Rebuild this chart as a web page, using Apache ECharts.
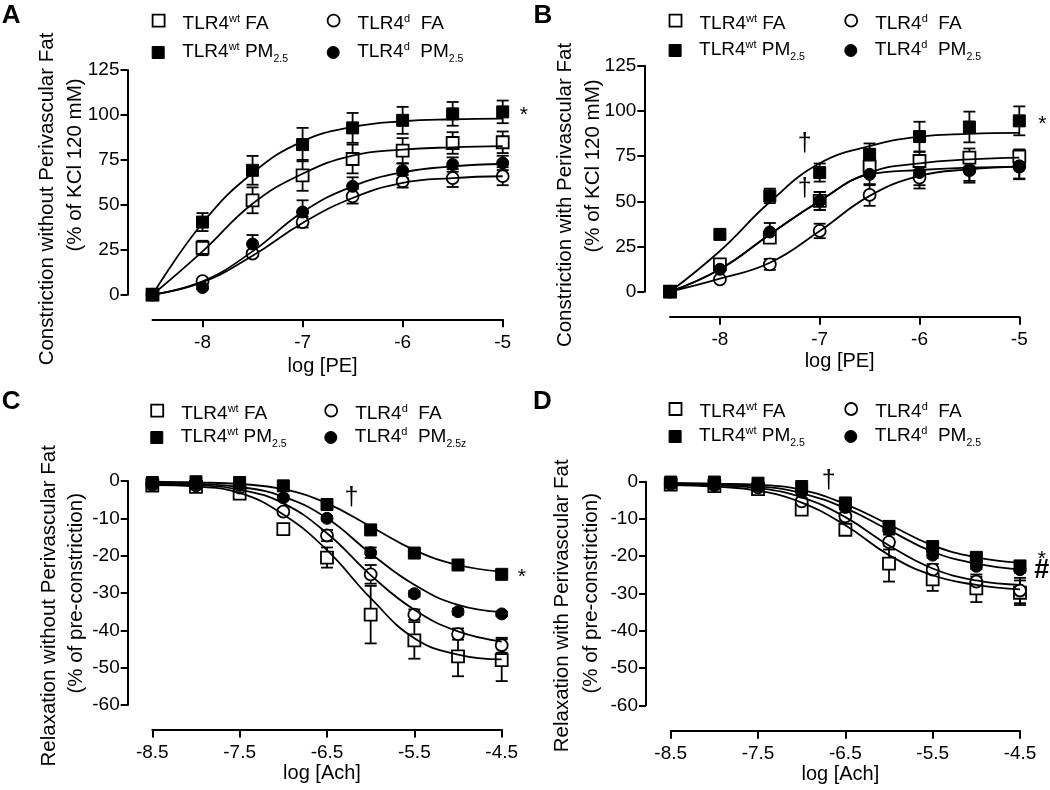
<!DOCTYPE html>
<html><head><meta charset="utf-8">
<script src="https://cdn.jsdelivr.net/npm/echarts@6/dist/echarts.min.js"></script>
<style>html,body{margin:0;padding:0;background:#fff}#c{width:1050px;height:790px}</style>
</head><body><div id="c"></div>
<script>
// ---------- x positions & ticks ----------
const xPE  = [-8.5, -8, -7.5, -7, -6.5, -6, -5.5, -5];
const xAch = [-8.5, -8, -7.5, -7, -6.5, -6, -5.5, -5, -4.5];
const peTicks  = [-8, -7, -6, -5];
const achTicks = [-8.5, -7.5, -6.5, -5.5, -4.5];

// ---------- Panel A : constriction without PVAT ----------
const aWtFA     = [0, 26, 52.5, 66.4, 75.5, 80.1, 84.4, 84.8];
const aWtFAErr  = [0, 4, 7.2, 8.6, 8, 7, 6, 6];
const aWtFAFit  = [0, 24.1, 50.6, 67.3, 77.4, 80.7, 82, 82.6];
const aWtPM     = [0, 40.4, 69.2, 83.5, 92.8, 97, 100.6, 101.7];
const aWtPMErr  = [0, 5, 8, 9.3, 8.3, 7.5, 6.6, 6.3];
const aWtPMFit  = [0, 39.9, 67.7, 85.3, 93.3, 96.5, 97.6, 98];
const aDFA      = [0, 7.5, 22.8, 40.4, 54.7, 63.1, 64.9, 65.9];
const aDFAErr   = [0, 1, 1.5, 3, 4, 3.5, 5, 5];
const aDFAFit   = [0, 7, 21.7, 39.9, 53.8, 62.2, 64.9, 65.9];
const aDPM      = [0, 4, 28.2, 46, 60.3, 69, 72.4, 73.3];
const aDPMErr   = [0, 1, 5, 6.5, 5, 4, 4, 4];
const aDPMFit   = [0, 7.4, 24.1, 46, 60.3, 68.1, 71.4, 72.7];
const aNotes    = [[-4.79, 99.7, '*']];

// ---------- Panel B : constriction with PVAT ----------
const bWtFA     = [0, 15.1, 29.9, 50.2, 69.2, 72.3, 74.2, 74.7];
const bWtFAErr  = [0, 0.5, 3, 5, 5, 5, 5, 4];
const bWtFAFit  = [0, 12.4, 31.7, 50.2, 65.9, 71, 73.2, 74.2];
const bWtPM     = [0, 31.7, 53, 65.9, 76, 85.8, 91.1, 94.5];
const bWtPMErr  = [0, 0.5, 4, 5, 6, 8.2, 8.5, 8];
const bWtPMFit  = [0, 22.5, 49.6, 71, 80.5, 85.8, 87.3, 87.8];
const bDFA      = [0, 6.8, 15.1, 33.6, 53.5, 63.1, 67.3, 69.2];
const bDFAErr   = [0, 0.5, 3, 4, 6, 6, 6, 7];
const bDFAFit   = [0, 7.2, 16, 33.6, 53, 64, 67.7, 69.2];
const bDPM      = [0, 12.4, 33, 50.2, 64.9, 65.9, 67.3, 69.6];
const bDPMErr   = [0, 0.5, 5, 5, 6, 7, 7, 7];
const bDPMFit   = [0, 12.4, 31.7, 50.2, 64.9, 67.3, 68.6, 69.2];
const bNotes    = [[-4.77, 92.9, '*'], [-7.15, 81.5, '\u2020'], [-7.15, 57, '\u2020']];

// ---------- Panel C : relaxation without PVAT ----------
const cWtFA     = [-1.2, -1.6, -3.4, -12.9, -20.5, -35.8, -42.7, -47, -48];
const cWtFAErr  = [0.5, 0.5, 0.8, 1.2, 2.7, 7.7, 4.9, 5.3, 5.6];
const cWtFAFit  = [-1.1, -1.5, -3.2, -9, -18.5, -31.4, -42.1, -46.5, -47.8];
const cWtPM     = [-0.4, -0.2, -0.4, -1.3, -6.3, -13.1, -19.3, -22.5, -25];
const cWtPMErr  = [0.3, 0.3, 0.3, 0.4, 0.5, 0.6, 0.6, 0.6, 0.6];
const cWtPMFit  = [-0.2, -0.4, -0.8, -2.2, -6, -12.2, -18.5, -22.5, -24.3];
const cDFA      = [-1, -1.2, -1.8, -8.2, -14.6, -25, -35.8, -41, -44];
const cDFAErr   = [0.4, 0.4, 0.5, 0.8, 1.5, 2.5, 1.4, 1.5, 2];
const cDFAFit   = [-0.8, -1.1, -2.3, -6, -14, -25.2, -34.5, -40.3, -43];
const cDPM      = [-0.8, -0.9, -1.2, -4.5, -10, -19.2, -30.2, -35, -35.6];
const cDPMErr   = [0.3, 0.3, 0.4, 0.6, 0.6, 1.4, 0.8, 0.8, 0.6];
const cDPMFit   = [-0.6, -0.8, -1.6, -4.2, -10, -19.4, -27.8, -33.2, -35.1];
const cNotes    = [[-4.27, -25.8, '*'], [-6.22, -4.6, '\u2020']];

// ---------- Panel D : relaxation with PVAT ----------
const dWtFA     = [-0.8, -1.2, -2, -7.5, -12.9, -22, -26.2, -28.6, -29.8];
const dWtFAErr  = [0.4, 0.4, 0.5, 0.8, 1.2, 4.8, 3.1, 3.7, 3.3];
const dWtFAFit  = [-0.9, -1.3, -2.4, -5.6, -11.7, -19.7, -25.1, -27.7, -28.9];
const dWtPM     = [-0.1, -0.1, -0.4, -1.3, -5.7, -12, -17.4, -20.3, -22.6];
const dWtPMErr  = [0.3, 0.3, 0.3, 0.4, 0.5, 0.8, 0.8, 0.8, 0.8];
const dWtPMFit  = [-0.3, -0.5, -0.8, -2.2, -6, -11.5, -17.1, -20.3, -21.8];
const dDFA      = [-0.6, -0.9, -1.5, -5.3, -9.3, -16.2, -23.6, -26.8, -29.2];
const dDFAErr   = [0.3, 0.3, 0.4, 0.8, 1, 2, 1.5, 1.3, 3.4];
const dDFAFit   = [-0.7, -1, -1.7, -4.2, -9.5, -17.1, -23.3, -26.5, -27.7];
const dDPM      = [-0.5, -0.8, -1.2, -2.8, -6.9, -12.9, -19.7, -22.7, -23.6];
const dDPMErr   = [0.3, 0.3, 0.3, 0.4, 0.5, 0.8, 0.8, 0.8, 0.8];
const dDPMFit   = [-0.5, -0.7, -1.2, -3.1, -7.1, -13, -18.8, -22, -23.6];
const dNotes    = [[-4.25, -20.7, '*'], [-4.25, -23.9, '#'], [-6.69, 0.2, '\u2020']];

// ---------- text ----------
const yTitlesA = ['Constriction without Perivascular Fat', '(% of KCl 120 mM)'];
const yTitlesB = ['Constriction with Perivascular Fat', '(% of KCl 120 mM)'];
const yTitlesC = ['Relaxation without Perivascular Fat', '(% of pre-constriction)'];
const yTitlesD = ['Relaxation with Perivascular Fat', '(% of pre-constriction)'];

const FONT = "'Liberation Sans', Arial, Helvetica, sans-serif";

const groups = [
  {key: 'wtFA', symbol: 'rect',   filled: false},
  {key: 'dFA',  symbol: 'circle', filled: false},
  {key: 'wtPM', symbol: 'rect',   filled: true},
  {key: 'dPM',  symbol: 'circle', filled: true}
];

const panels = [
  {id: 'A', xs: xPE, d: {wtFA: [aWtFA, aWtFAErr, aWtFAFit], wtPM: [aWtPM, aWtPMErr, aWtPMFit], dFA: [aDFA, aDFAErr, aDFAFit], dPM: [aDPM, aDPMErr, aDPMFit]},
   notes: aNotes, titles: yTitlesA, xName: 'log [PE]', xMin: -8.5, xMax: -5, xTicks: peTicks,
   yMin: 0, yMax: 125, yInt: 25,
   grid: {left: 152.5, top: 70, width: 350.2, height: 224.7}, xOff: 24.6, yOff: 25, nameGap: 37,
   t1: [47.5, 199], t2: [75, 165], letter: [1.7, 16], leg: {c1: 151.7, c2: 326.7, r1: 19.2, r2: 51}, sub: '2.5'},
  {id: 'B', xs: xPE, d: {wtFA: [bWtFA, bWtFAErr, bWtFAFit], wtPM: [bWtPM, bWtPMErr, bWtPMFit], dFA: [bDFA, bDFAErr, bDFAFit], dPM: [bDPM, bDPMErr, bDPMFit]},
   notes: bNotes, titles: yTitlesB, xName: 'log [PE]', xMin: -8.5, xMax: -5, xTicks: peTicks,
   yMin: 0, yMax: 125, yInt: 25,
   grid: {left: 670, top: 65.7, width: 349.3, height: 226}, xOff: 25, yOff: 25.7, nameGap: 35,
   t1: [565.5, 195], t2: [593.5, 166], letter: [533.5, 16.3], leg: {c1: 668.6, c2: 844.3, r1: 19.2, r2: 49}, sub: '2.5'},
  {id: 'C', xs: xAch, d: {wtFA: [cWtFA, cWtFAErr, cWtFAFit], wtPM: [cWtPM, cWtPMErr, cWtPMFit], dFA: [cDFA, cDFAErr, cDFAFit], dPM: [cDPM, cDPMErr, cDPMFit]},
   notes: cNotes, titles: yTitlesC, xName: 'log [Ach]', xMin: -8.5, xMax: -4.5, xTicks: achTicks,
   yMin: -60, yMax: 0, yInt: 10,
   grid: {left: 152.3, top: 481, width: 349.4, height: 224}, xOff: 24.5, yOff: 24.6, nameGap: 32.5,
   t1: [49, 605.8], t2: [76, 593.3], letter: [1.7, 401.7], leg: {c1: 150.3, c2: 324.3, r1: 409.2, r2: 436}, sub: '2.5z'},
  {id: 'D', xs: xAch, d: {wtFA: [dWtFA, dWtFAErr, dWtFAFit], wtPM: [dWtPM, dWtPMErr, dWtPMFit], dFA: [dDFA, dDFAErr, dDFAFit], dPM: [dDPM, dDPMErr, dDPMFit]},
   notes: dNotes, titles: yTitlesD, xName: 'log [Ach]', xMin: -8.5, xMax: -4.5, xTicks: achTicks,
   yMin: -60, yMax: 0, yInt: 10,
   grid: {left: 670.7, top: 481.7, width: 349.3, height: 223.6}, xOff: 25.4, yOff: 24.7, nameGap: 32.6,
   t1: [562, 605.8], t2: [591, 593.3], letter: [533, 401.7], leg: {c1: 668.6, c2: 844.3, r1: 407.5, r2: 435}, sub: '2.5'}
];

function pad(o) { return o >= 0 ? [2 * o, 0, 0, 0] : [0, 0, -2 * o, 0]; }
function rich(shift) {
  const base = {fontFamily: FONT, color: '#000', lineHeight: 22};
  const p = pad(shift);
  return {
    t0:  Object.assign({}, base, {fontSize: 19, padding: [p[0], 0, p[2], 13]}),
    t:   Object.assign({}, base, {fontSize: 19, padding: pad(shift)}),
    sup: Object.assign({}, base, {fontSize: 11, padding: pad(shift - 5)}),
    sub: Object.assign({}, base, {fontSize: 10.5, padding: pad(shift + 8)})
  };
}
function legendText(key, sub) {
  if (key === 'wtFA') return '{t0|TLR4}{sup|wt}{t| FA}';
  if (key === 'wtPM') return '{t0|TLR4}{sup|wt}{t| PM}{sub|2.5}';
  if (key === 'dFA')  return '{t0|TLR4}{sup|d}{t|  FA}';
  return '{t0|TLR4}{sup|d}{t|  PM}{sub|' + sub + '}';
}
function markerStyle(g) {
  return g.filled ? {color: '#000', borderColor: '#000', borderWidth: 1, opacity: 1}
                  : {color: '#fff', borderColor: '#000', borderWidth: 1.8, opacity: 1};
}

const option = {
  backgroundColor: '#fff',
  animation: false,
  grid: [], xAxis: [], yAxis: [], series: [], legend: [], graphic: []
};

panels.forEach((p, i) => {
  option.grid.push(Object.assign({containLabel: false}, p.grid));
  option.xAxis.push({
    type: 'value', gridIndex: i, min: p.xMin, max: p.xMax, offset: p.xOff,
    name: p.xName, nameLocation: 'middle', nameGap: p.nameGap,
    nameTextStyle: {fontSize: 20, fontFamily: FONT, color: '#000', padding: [0, 10, 0, 0]},
    axisLine: {show: true, onZero: false, lineStyle: {color: '#000', width: 2}},
    axisTick: {show: true, length: 8, lineStyle: {color: '#000', width: 2}, customValues: p.xTicks},
    axisLabel: {show: true, fontSize: 19, fontFamily: FONT, color: '#000', margin: 14, customValues: p.xTicks},
    splitLine: {show: false}
  });
  option.yAxis.push({
    type: 'value', gridIndex: i, min: p.yMin, max: p.yMax, interval: p.yInt, offset: p.yOff,
    axisLine: {show: true, onZero: false, lineStyle: {color: '#000', width: 2}},
    axisTick: {show: true, length: 7, lineStyle: {color: '#000', width: 2}},
    axisLabel: {show: true, fontSize: 19, fontFamily: FONT, color: '#000', margin: 8},
    splitLine: {show: false}
  });

  groups.forEach(g => {
    const [vals, errs, fit] = p.d[g.key];
    const name = p.id + '-' + g.key;
    // error bars
    option.series.push({
      type: 'custom', xAxisIndex: i, yAxisIndex: i, z: 2, silent: true, clip: false,
      encode: {x: 0, y: [1, 2]},
      data: p.xs.map((x, k) => [x, vals[k] - errs[k], vals[k] + errs[k]]),
      renderItem: function (params, api) {
        const x = api.value(0);
        const lo = api.coord([x, api.value(1)]);
        const hi = api.coord([x, api.value(2)]);
        if (Math.abs(lo[1] - hi[1]) < 0.5) return null;
        const w = 6, st = {stroke: '#000', lineWidth: 1.8};
        return {type: 'group', children: [
          {type: 'line', shape: {x1: lo[0], y1: lo[1], x2: hi[0], y2: hi[1]}, style: st},
          {type: 'line', shape: {x1: lo[0] - w, y1: lo[1], x2: lo[0] + w, y2: lo[1]}, style: st},
          {type: 'line', shape: {x1: hi[0] - w, y1: hi[1], x2: hi[0] + w, y2: hi[1]}, style: st}
        ]};
      }
    });
    // markers
    option.series.push({
      name: name, type: 'scatter', xAxisIndex: i, yAxisIndex: i, z: 3, clip: false,
      symbol: g.symbol, symbolSize: 12,
      itemStyle: markerStyle(g),
      emphasis: {disabled: true},
      data: p.xs.map((x, k) => [x, vals[k]])
    });
    // fitted curve
    option.series.push({
      type: 'line', xAxisIndex: i, yAxisIndex: i, z: 4, silent: true, clip: false,
      showSymbol: false, symbol: 'none', smooth: 0.45,
      lineStyle: {color: '#000', width: 1.8},
      data: p.xs.map((x, k) => [x, fit[k]])
    });
  });

  // annotations
  option.series.push({
    type: 'scatter', xAxisIndex: i, yAxisIndex: i, z: 6, silent: true, clip: false,
    symbolSize: 0, itemStyle: {opacity: 1},
    label: {show: true, position: 'inside', color: '#000', fontFamily: FONT, fontSize: 20},
    data: p.notes.map(n => ({
      value: [n[0], n[1]],
      label: {formatter: n[2], fontSize: n[2] === '#' ? 27 : (n[2] === '*' ? 21 : 25), fontWeight: n[2] === '#' ? 'bold' : 'normal'}
    }))
  });

  // legends (one per item to control placement)
  const legItems = [
    {g: groups[0], left: p.leg.c1, r: p.leg.r1, shift: 3},
    {g: groups[1], left: p.leg.c2, r: p.leg.r1, shift: 3},
    {g: groups[2], left: p.leg.c1, r: p.leg.r2, shift: -1},
    {g: groups[3], left: p.leg.c2, r: p.leg.r2, shift: -1}
  ];
  legItems.forEach(it => {
    const key = it.g.key;
    option.legend.push({
      show: true, orient: 'horizontal', left: it.left, top: it.r - 11, padding: 0,
      itemWidth: 12, itemHeight: 12, itemGap: 0, selectedMode: false,
      data: [{name: p.id + '-' + key, icon: it.g.symbol, itemStyle: markerStyle(it.g)}],
      formatter: function () { return legendText(key, p.sub); },
      textStyle: {fontFamily: FONT, color: '#000', fontSize: 19, rich: rich(it.shift)}
    });
  });

  // panel letter & y titles
  option.graphic.push({
    type: 'text', x: p.letter[0], y: p.letter[1], silent: true,
    style: {text: p.id, fontSize: 26, fontWeight: 'bold', fontFamily: FONT, fill: '#000', align: 'left', verticalAlign: 'middle'}
  });
  option.graphic.push({
    type: 'text', x: p.t1[0], y: p.t1[1], rotation: Math.PI / 2, silent: true,
    style: {text: p.titles[0], fontSize: 20.5, fontFamily: FONT, fill: '#000', align: 'center', verticalAlign: 'middle'}
  });
  option.graphic.push({
    type: 'text', x: p.t2[0], y: p.t2[1], rotation: Math.PI / 2, silent: true,
    style: {text: p.titles[1], fontSize: 20.5, fontFamily: FONT, fill: '#000', align: 'center', verticalAlign: 'middle'}
  });
});

const chart = echarts.init(document.getElementById('c'), null, {renderer: 'canvas'});
chart.setOption(option);
</script></body></html>
